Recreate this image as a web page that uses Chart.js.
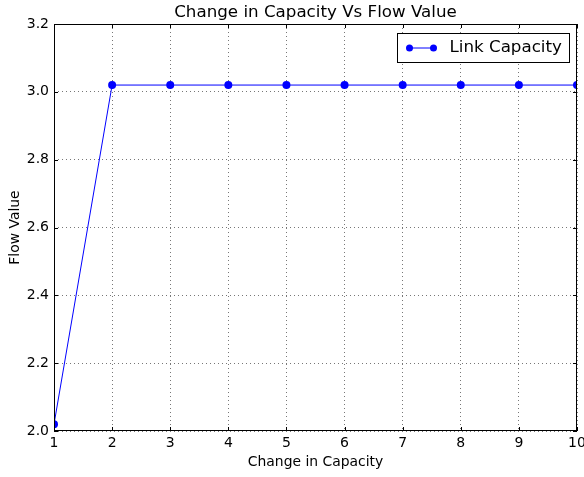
<!DOCTYPE html>
<html>
<head>
<meta charset="utf-8">
<script src="https://cdn.jsdelivr.net/npm/chart.js@4/dist/chart.umd.min.js"></script>
<style>
  html, body { margin: 0; padding: 0; background: #fff; }
  #wrap { width: 584px; height: 477px; }
</style>
</head>
<body>
<div id="wrap"><canvas id="capChart" width="584" height="477"></canvas></div>
<script>
const capacities = [1, 2, 3, 4, 5, 6, 7, 8, 9, 10];
const flowValues = [2.02, 3.02, 3.02, 3.02, 3.02, 3.02, 3.02, 3.02, 3.02, 3.02];
const yTicks = [2.0, 2.2, 2.4, 2.6, 2.8, 3.0, 3.2];
const seriesLabel = 'Link Capacity';
const chartTitle = 'Change in Capacity Vs Flow Value';

const FONT = "'DejaVu Sans', sans-serif";

// matplotlib classic look: frame on all sides, inward ticks, legend in the corner
const framePlugin = {
  id: 'frame',
  beforeDatasetsDraw(chart) {
    // clip markers to the plot area, as matplotlib does
    const { ctx, chartArea: a } = chart;
    ctx.save();
    ctx.beginPath();
    ctx.rect(a.left, a.top, a.right - a.left, a.bottom - a.top);
    ctx.clip();
  },
  afterDatasetsDraw(chart) {
    const { ctx, chartArea: a, scales } = chart;
    ctx.restore();
    ctx.save();
    ctx.strokeStyle = '#000';
    ctx.lineWidth = 1;
    ctx.strokeRect(a.left + 0.5, a.top + 0.5, a.right - a.left - 1, a.bottom - a.top - 1);
    ctx.beginPath();
    capacities.forEach(v => {
      const x = Math.round(scales.x.getPixelForValue(v)) + 0.5;
      ctx.moveTo(x, a.bottom); ctx.lineTo(x, a.bottom - 4);
      ctx.moveTo(x, a.top); ctx.lineTo(x, a.top + 4);
    });
    yTicks.forEach(v => {
      const y = Math.round(scales.y.getPixelForValue(v)) + 0.5;
      ctx.moveTo(a.left, y); ctx.lineTo(a.left + 4, y);
      ctx.moveTo(a.right, y); ctx.lineTo(a.right - 4, y);
    });
    ctx.stroke();

    // title, centred over the plot area like matplotlib
    ctx.fillStyle = '#000';
    ctx.font = '16.7px ' + FONT;
    ctx.textAlign = 'center';
    ctx.textBaseline = 'middle';
    ctx.fillText(chartTitle, (a.left + a.right) / 2, 13);

    // legend box
    const bx = 397.5, by = 33.5, bw = 172, bh = 29;
    ctx.fillStyle = '#fff';
    ctx.fillRect(bx, by, bw, bh);
    ctx.strokeStyle = '#000';
    ctx.strokeRect(bx, by, bw, bh);
    const ly = by + bh / 2;
    ctx.strokeStyle = '#0000ff';
    ctx.beginPath();
    ctx.moveTo(bx + 12, ly); ctx.lineTo(bx + 36, ly);
    ctx.stroke();
    ctx.fillStyle = '#0000ff';
    [bx + 12, bx + 36].forEach(px => {
      ctx.beginPath(); ctx.arc(px, ly, 3.5, 0, Math.PI * 2); ctx.fill();
    });
    ctx.fillStyle = '#000';
    ctx.font = '16.7px ' + FONT;
    ctx.textAlign = 'left';
    ctx.fillText(seriesLabel, bx + 52, ly);
    ctx.restore();
  }
};

new Chart(document.getElementById('capChart'), {
  type: 'line',
  data: {
    labels: capacities,
    datasets: [{
      label: seriesLabel,
      data: capacities.map((c, i) => ({ x: c, y: flowValues[i] })),
      borderColor: '#0000ff',
      backgroundColor: '#0000ff',
      borderWidth: 1,
      pointRadius: 4,
      pointBorderWidth: 0,
      pointHoverRadius: 4,
      tension: 0,
      clip: 0
    }]
  },
  options: {
    responsive: false,
    animation: false,
    layout: { padding: { left: 0, right: 7, top: 24, bottom: 0 } },
    plugins: {
      legend: { display: false },
      tooltip: { enabled: false },
      title: { display: false }
    },
    scales: {
      x: {
        type: 'linear',
        min: 1, max: 10,
        afterFit(scale) {
          scale.height = 46;
          scale.paddingLeft = 0;
          scale.paddingRight = 0;
        },
        afterBuildTicks(scale) { scale.ticks = capacities.map(v => ({ value: v })); },
        grid: { color: '#777', drawTicks: false, lineWidth: 1 },
        border: { display: false, dash: [1, 3] },
        ticks: { color: '#000', font: { family: FONT, size: 14 }, padding: 4, maxRotation: 0 },
        title: {
          display: true, text: 'Change in Capacity', color: '#000',
          font: { family: FONT, size: 13.9 }, padding: { top: 0, bottom: 6 }
        }
      },
      y: {
        min: 2.0, max: 3.2,
        afterFit(scale) {
          scale.width = 54;
          scale.paddingTop = 0;
          scale.paddingBottom = 0;
        },
        afterBuildTicks(scale) { scale.ticks = yTicks.map(v => ({ value: v })); },
        grid: { color: '#777', drawTicks: false, lineWidth: 1 },
        border: { display: false, dash: [1, 3] },
        ticks: {
          color: '#000', font: { family: FONT, size: 14 }, padding: 5,
          callback: v => v.toFixed(1)
        },
        title: {
          display: true, text: 'Flow Value', color: '#000',
          font: { family: FONT, size: 13.9 }, padding: { top: 7, bottom: 0 }
        }
      }
    }
  },
  plugins: [framePlugin]
});
</script>
</body>
</html>
